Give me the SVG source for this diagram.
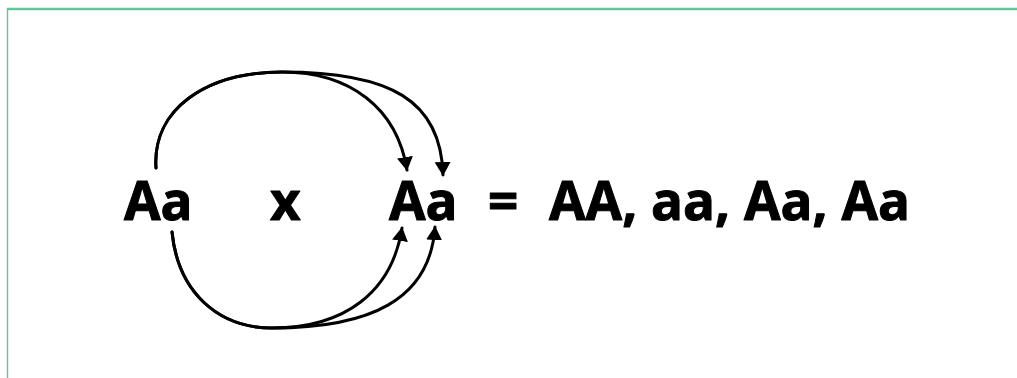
<svg xmlns="http://www.w3.org/2000/svg" width="1017" height="378" viewBox="0 0 1017 378">
  <defs>
    <style>
      .t { font-family: "Open Sans", "Noto Sans", "Liberation Sans", sans-serif; font-weight: 700; font-size: 53px; fill: #000; stroke: #000; stroke-width: 1; stroke-linejoin: round; }
      .c { fill: none; stroke: #000; stroke-width: 3; stroke-linecap: round; }
      .frame { stroke: #5ec897; fill: none; }
    </style>
    <marker id="ah" markerUnits="userSpaceOnUse" markerWidth="18" markerHeight="18" refX="13" refY="8" orient="auto">
      <path d="M0,0 L14,8 L0,16 Z" fill="#000"/>
    </marker>
  </defs>
  <rect width="1017" height="378" fill="#fff"/>
  <g id="frame">
    <line class="frame" x1="7" y1="9" x2="1017" y2="9" stroke-width="2.4"/>
    <line class="frame" x1="7.5" y1="8" x2="7.5" y2="378" stroke-width="1.4"/>
  </g>
  <g id="parent1"><text class="t" x="124" y="220">Aa</text></g>
  <g id="cross"><text class="t" x="270" y="220">x</text></g>
  <g id="parent2"><text class="t" x="389" y="220">Aa</text></g>
  <g id="equals"><text class="t" x="488" y="220">=</text></g>
  <g id="result"><text class="t" x="549" y="220">AA, aa, Aa, Aa</text></g>
  <g id="connectors">
    <path class="c" marker-end="url(#ah)" d="M156,168 C152,110 205,72 282,72 C350,72 397,108 407,170"/>
    <path class="c" marker-end="url(#ah)" d="M156,168 C152,110 205,72 282,72 C390,72 441,100 443,175"/>
    <path class="c" marker-end="url(#ah)" d="M172,232 C178,292 218,328 272,328 C345,328 392,292 402,228"/>
    <path class="c" marker-end="url(#ah)" d="M172,232 C178,292 218,328 272,328 C370,328 430,300 435,227"/>
  </g>
</svg>
